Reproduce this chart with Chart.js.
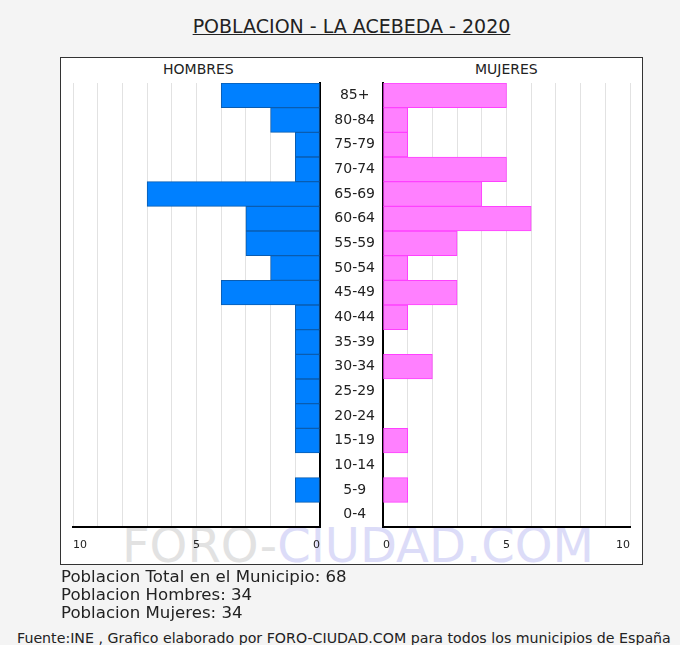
<!DOCTYPE html>
<html>
<head>
<meta charset="utf-8">
<script src="https://cdn.jsdelivr.net/npm/chart.js@4.4.1/dist/chart.umd.min.js"></script>
<style>
  body { margin:0; width:680px; height:645px; background:#f4f4f4; position:relative; overflow:hidden;
         font-family:"DejaVu Sans", Verdana, sans-serif; color:#222; }
  #titulo { position:absolute; left:60px; width:583px; top:15px; text-align:center; font-size:19px; text-decoration:underline; }
  #caja { position:absolute; left:60px; top:57px; width:581px; height:506px; background:#fff; border:1px solid #333; }
  #marca { position:absolute; left:122px; top:521px; font-size:48px; line-height:48px; white-space:nowrap; }
  #marca .a { color:#e2e2e2; }
  #marca .b { color:#dcdcf8; }
  .sexo { position:absolute; top:61px; font-size:14px; }
  canvas { position:absolute; top:57px; }
  #izq { left:60px; }
  #der { left:320px; }
  #totales { position:absolute; left:61px; top:568px; font-size:16.6px; line-height:18px; }
  #fuente { position:absolute; left:17px; top:630px; font-size:14.2px; line-height:16px; white-space:nowrap; }
</style>
</head>
<body>
<div id="titulo">POBLACION - LA ACEBEDA - 2020</div>
<div id="caja"></div>
<div id="marca"><span class="a">FORO-</span><span class="b">CIUDAD.COM</span></div>
<div class="sexo" style="left:163px">HOMBRES</div>
<div class="sexo" style="left:475px">MUJERES</div>
<canvas id="der" width="323" height="508"></canvas>
<canvas id="izq" width="272" height="508"></canvas>
<div id="totales"></div>
<div id="fuente">Fuente:INE , Grafico elaborado por FORO-CIUDAD.COM para todos los municipios de España</div>
<script>
var grupos = ['85+','80-84','75-79','70-74','65-69','60-64','55-59','50-54','45-49',
              '40-44','35-39','30-34','25-29','20-24','15-19','10-14','5-9','0-4'];
var hombres = [4,2,1,1,7,3,3,2,4,1,1,1,1,1,1,0,1,0];
var mujeres = [5,1,1,5,4,6,3,1,3,1,0,2,0,0,1,0,1,0];
var marcasEje = [0,5,10];
var maximoEje = 10;

var fuente = '"DejaVu Sans", Verdana, sans-serif';

function suma(lista){
    var t = 0;
    for (var i = 0; i < lista.length; i++) t += lista[i];
    return t;
}

// el lado de hombres crece hacia la izquierda: se dibuja en negativo
// y las etiquetas muestran el valor absoluto
function ejeValores(izquierda){
    return {
        min: izquierda ? -maximoEje : 0,
        max: izquierda ? 0 : maximoEje,
        ticks: {
            stepSize: 1,
            autoSkip: false,
            maxRotation: 0,
            align: 'inner',
            padding: 12,
            color: '#222',
            font: {family: fuente, size: 11},
            callback: function(v){
                var a = Math.abs(v);
                return marcasEje.indexOf(a) >= 0 ? String(a) : '';
            }
        },
        grid: {color: '#e2e2e2', lineWidth: 1, drawTicks: false},
        border: {color: '#000', width: 2},
        afterFit: function(s){ s.height = 30; }
    };
}

function creaPiramide(id, datos, relleno, borde, izquierda){
    var ejeY = {
        position: izquierda ? 'right' : 'left',
        grid: {display: false},
        border: {color: '#000', width: 2},
        ticks: izquierda ? {display: false} : {
            color: '#222',
            padding: 0,
            crossAlign: 'center',
            font: {family: fuente, size: 14}
        },
        afterFit: function(s){ s.width = izquierda ? 0 : 63; }
    };
    return new Chart(document.getElementById(id).getContext('2d'), {
        type: 'bar',
        data: {
            labels: grupos,
            datasets: [{
                data: izquierda ? datos.map(function(v){ return -v; }) : datos,
                backgroundColor: relleno,
                borderColor: borde,
                borderWidth: 1,
                borderSkipped: false,
                barPercentage: 1,
                categoryPercentage: 1
            }]
        },
        options: {
            indexAxis: 'y',
            responsive: false,
            animation: false,
            // el margen derecho de 12 cubre el padding de las marcas del eje
            layout: {padding: izquierda ? {left: 13, right: 12, top: 26, bottom: 8}
                                        : {left: 0, right: 13, top: 26, bottom: 8}},
            plugins: {legend: {display: false}, tooltip: {enabled: false}},
            scales: {x: ejeValores(izquierda), y: ejeY}
        }
    });
}

creaPiramide('izq', hombres, '#0080ff', '#0a5cb0', true);
creaPiramide('der', mujeres, '#ff80ff', '#ff40ff', false);

document.getElementById('totales').innerHTML =
    'Poblacion Total en el Municipio: ' + (suma(hombres) + suma(mujeres)) + '<br>' +
    'Poblacion Hombres: ' + suma(hombres) + '<br>' +
    'Poblacion Mujeres: ' + suma(mujeres);
</script>
</body>
</html>
